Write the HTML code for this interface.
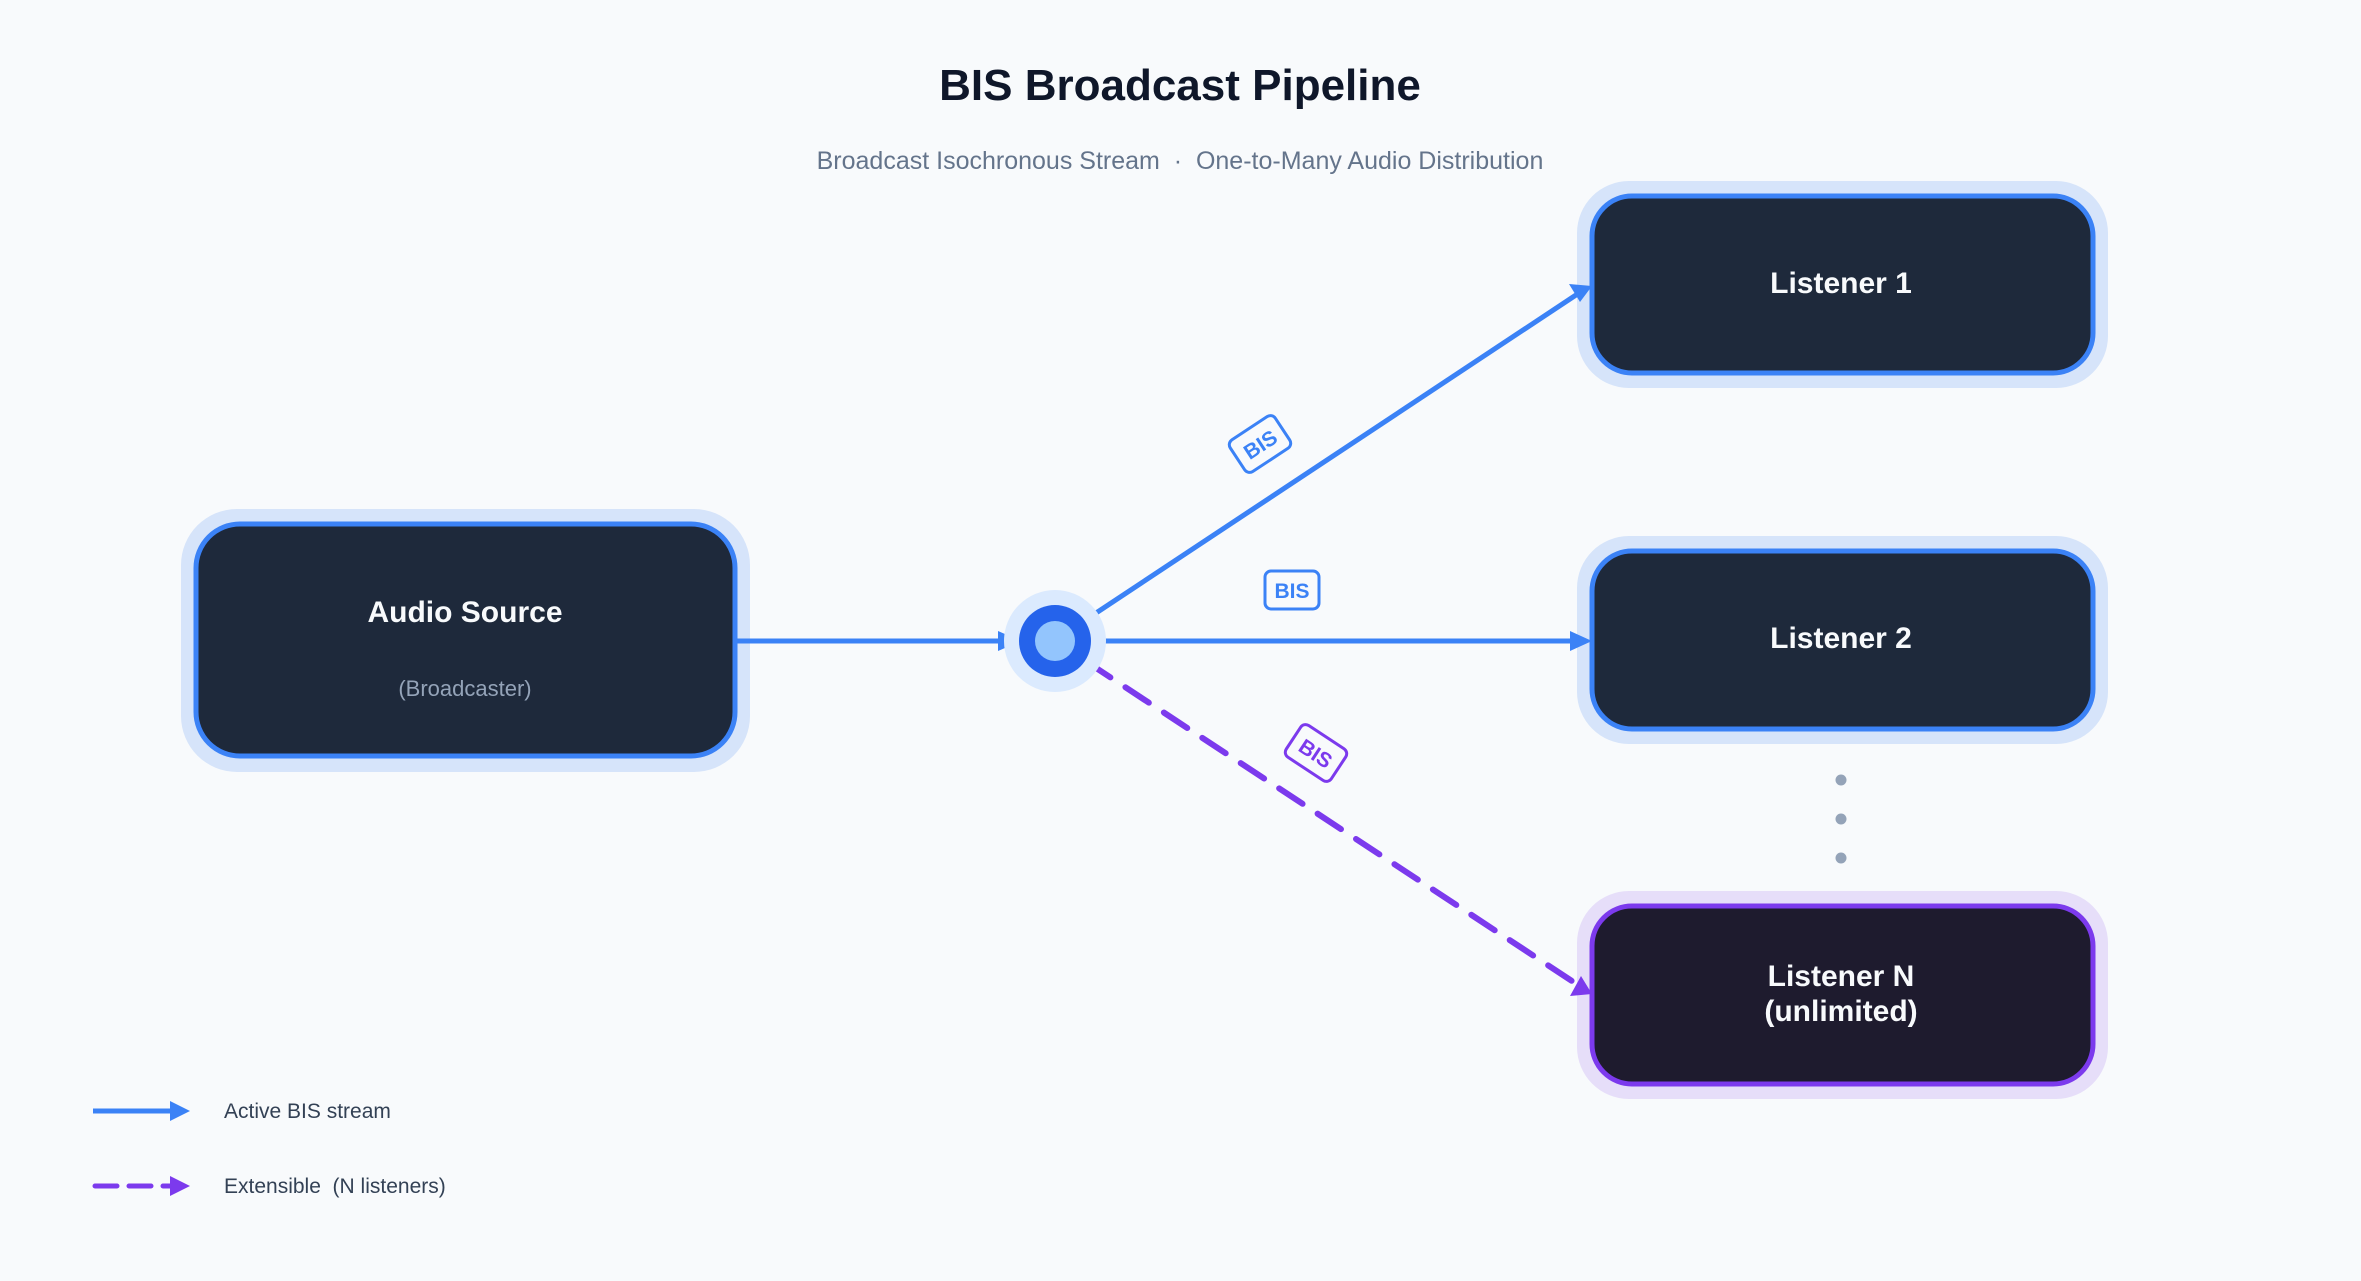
<!DOCTYPE html>
<html><head><meta charset="utf-8"><style>
html,body{margin:0;padding:0;background:#f8fafc;}
svg{display:block;font-family:"Liberation Sans",sans-serif;}
</style></head><body>
<svg width="2361" height="1281" viewBox="0 0 2361 1281" xmlns="http://www.w3.org/2000/svg">
<rect width="2361" height="1281" fill="#f8fafc"/>
<text x="1180" y="100" text-anchor="middle" font-size="44" font-weight="bold" fill="#0f172a">BIS Broadcast Pipeline</text>
<text x="1180" y="169" text-anchor="middle" font-size="25" fill="#64748b">Broadcast Isochronous Stream&#160;&#160;·&#160;&#160;One-to-Many Audio Distribution</text>

<!-- Audio Source -->
<rect x="181" y="509" width="569" height="263" rx="56" fill="#d6e4fa"/>
<rect x="196" y="524" width="539" height="232" rx="44" fill="#1e293b" stroke="#3b82f6" stroke-width="5"/>
<text x="465" y="622" text-anchor="middle" font-size="30" font-weight="bold" fill="#f8fafc">Audio Source</text>
<text x="465" y="696" text-anchor="middle" font-size="22" fill="#94a3b8">(Broadcaster)</text>

<!-- Listener 1 -->
<rect x="1577" y="181" width="531" height="207" rx="52" fill="#d6e4fa"/>
<rect x="1592" y="196" width="501" height="177" rx="40" fill="#1e293b" stroke="#3b82f6" stroke-width="5"/>
<text x="1841" y="293" text-anchor="middle" font-size="30" font-weight="bold" fill="#f8fafc">Listener 1</text>

<!-- Listener 2 -->
<rect x="1577" y="536" width="531" height="208" rx="52" fill="#d6e4fa"/>
<rect x="1592" y="551" width="501" height="178" rx="40" fill="#1e293b" stroke="#3b82f6" stroke-width="5"/>
<text x="1841" y="648" text-anchor="middle" font-size="30" font-weight="bold" fill="#f8fafc">Listener 2</text>

<!-- dots -->
<circle cx="1841" cy="780" r="5.5" fill="#94a3b8"/>
<circle cx="1841" cy="819" r="5.5" fill="#94a3b8"/>
<circle cx="1841" cy="858" r="5.5" fill="#94a3b8"/>

<!-- Listener N -->
<rect x="1577" y="891" width="531" height="208" rx="52" fill="#e6def9"/>
<rect x="1592" y="906" width="501" height="178" rx="40" fill="#1e1b2e" stroke="#7c3aed" stroke-width="5"/>
<text x="1841" y="986" text-anchor="middle" font-size="30" font-weight="bold" fill="#f8fafc">Listener N</text>
<text x="1841" y="1021" text-anchor="middle" font-size="30" font-weight="bold" fill="#f8fafc">(unlimited)</text>

<!-- connectors -->
<line x1="735" y1="641" x2="1005" y2="641" stroke="#3b82f6" stroke-width="5"/>
<polygon points="998,631 1021,641 998,651" fill="#3b82f6"/>
<line x1="1087" y1="619" x2="1576" y2="295" stroke="#3b82f6" stroke-width="5"/>
<polygon points="1569,284 1592,286 1580,302" fill="#3b82f6"/>
<line x1="1091" y1="641" x2="1578" y2="641" stroke="#3b82f6" stroke-width="5"/>
<polygon points="1570,631 1592,641 1570,651" fill="#3b82f6"/>
<line x1="1087" y1="662" x2="1578" y2="985" stroke="#7c3aed" stroke-width="6" stroke-dasharray="28,18" stroke-linecap="round"/>
<polygon points="1570,996 1592,994 1581,976" fill="#7c3aed"/>

<!-- hub -->
<circle cx="1055" cy="641" r="51" fill="#dbeafe"/>
<circle cx="1055" cy="641" r="36" fill="#2563eb"/>
<circle cx="1055" cy="641" r="20" fill="#93c5fd"/>

<!-- labels -->
<g transform="translate(1260,444) rotate(-33.4)">
<rect x="-27" y="-19" width="54" height="38" rx="6" fill="#f8fafc" stroke="#3b82f6" stroke-width="3"/>
<text x="0" y="8" text-anchor="middle" font-size="21" font-weight="bold" fill="#3b82f6">BIS</text>
</g>
<g transform="translate(1292,590)">
<rect x="-27" y="-19" width="54" height="38" rx="6" fill="#f8fafc" stroke="#3b82f6" stroke-width="3"/>
<text x="0" y="8" text-anchor="middle" font-size="21" font-weight="bold" fill="#3b82f6">BIS</text>
</g>
<g transform="translate(1316,753) rotate(33.4)">
<rect x="-27" y="-19" width="54" height="38" rx="6" fill="#f8fafc" stroke="#7c3aed" stroke-width="3"/>
<text x="0" y="8" text-anchor="middle" font-size="21" font-weight="bold" fill="#7c3aed">BIS</text>
</g>

<!-- legend -->
<line x1="93" y1="1111" x2="172" y2="1111" stroke="#3b82f6" stroke-width="5"/>
<polygon points="170,1101 190,1111 170,1121" fill="#3b82f6"/>
<text x="224" y="1118" font-size="21" fill="#334155">Active BIS stream</text>
<line x1="95" y1="1186" x2="172" y2="1186" stroke="#7c3aed" stroke-width="5" stroke-dasharray="22,12" stroke-linecap="round"/>
<polygon points="170,1176 190,1186 170,1196" fill="#7c3aed"/>
<text x="224" y="1193" font-size="21" fill="#334155">Extensible&#160;&#160;(N listeners)</text>
</svg>
</body></html>
